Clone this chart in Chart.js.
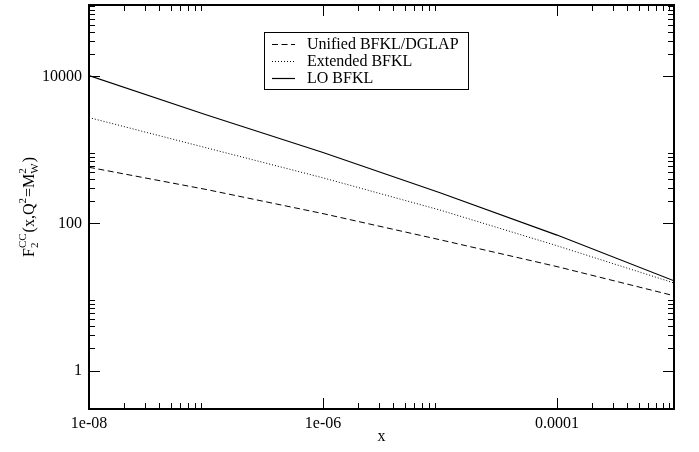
<!DOCTYPE html>
<html>
<head>
<meta charset="utf-8">
<title>F2 CC</title>
<script src="https://cdn.jsdelivr.net/npm/chart.js@4/dist/chart.umd.min.js"></script>
<style>
  html, body { margin: 0; padding: 0; background: #fff; }
</style>
</head>
<body>
<canvas id="f2Chart" width="699" height="452"></canvas>
<script>
// values, one point per decade of x
const X_VALUES = [1e-8, 1e-7, 1e-6, 1e-5, 1e-4, 1e-3];
const UNIFIED = [580, 290, 136, 60, 25.9, 10.4];
const EXTENDED = [2750, 1070, 417, 152, 49.7, 15.5];
const LO_BFKL = [10230, 3000, 920, 261, 69.5, 16.6];

const SERIES_LABELS = ['Unified BFKL/DGLAP', 'Extended BFKL', 'LO BFKL'];

const X_TICKS = [1e-8, 1e-6, 1e-4];
const X_TICK_LABELS = ['1e-08', '1e-06', '0.0001'];
const Y_TICKS = [1, 100, 10000];
const Y_TICK_LABELS = ['1', '100', '10000'];
const X_MIN = 1e-8, X_MAX = 1e-3;
const Y_MIN = 0.3162, Y_MAX = 93300;

const FONT = '"Liberation Serif", "Times New Roman", serif';

Chart.defaults.font.family = FONT;
Chart.defaults.font.size = 16;
Chart.defaults.color = '#000';

let toPoints = (ys) => {
  return ys.map((y, i) => ({x: X_VALUES[i], y: y}));
}

let lineConfig = (label, data, dash, width) => {
  return {
    label: label,
    data: toPoints(data),
    borderColor: '#000',
    backgroundColor: '#000',
    borderWidth: width,
    borderDash: dash,
    pointRadius: 0,
    fill: false,
    tension: 0
  }
}

// frame + inward ticks on all four sides, like the original
const framePlugin = {
  id: 'frame',
  afterDraw(chart) {
    const {ctx, chartArea: a} = chart;
    const xs = chart.scales.x, ys = chart.scales.y;
    const MAJOR = 11, MINOR = 6;
    ctx.save();
    ctx.strokeStyle = '#000';
    ctx.lineWidth = 1;

    let tick = (px, py, dx, dy) => {
      ctx.beginPath();
      ctx.moveTo(px, py);
      ctx.lineTo(px + dx, py + dy);
      ctx.stroke();
    };

    X_TICKS.forEach((m) => {
      for (let k = 1; k <= 9; k ++) {
        let v = m * k;
        if (v < X_MIN || v > X_MAX) continue;
        let len = k === 1 ? MAJOR : MINOR;
        let px = Math.round(xs.getPixelForValue(v)) + 0.5;
        tick(px, a.bottom, 0, -len);
        tick(px, a.top, 0, len);
      }
    });
    Y_TICKS.forEach((m) => {
      for (let k = 1; k <= 9; k ++) {
        let v = m * k;
        if (v < Y_MIN || v > Y_MAX) continue;
        let len = k === 1 ? MAJOR : MINOR;
        let py = Math.round(ys.getPixelForValue(v)) + 0.5;
        tick(a.left, py, len, 0);
        tick(a.right, py, -len, 0);
      }
    });

    ctx.lineWidth = 2;
    ctx.strokeRect(a.left, a.top, a.right - a.left, a.bottom - a.top);
    ctx.restore();
  }
};

// boxed legend inside the plot area
const boxLegend = {
  id: 'boxLegend',
  afterDraw(chart) {
    const {ctx, chartArea: a} = chart;
    const left = a.left + 175, top = a.top + 27, w = 204, h = 57;
    ctx.save();
    ctx.fillStyle = '#fff';
    ctx.fillRect(left, top, w, h);
    ctx.strokeStyle = '#000';
    ctx.lineWidth = 1;
    ctx.strokeRect(left + 0.5, top + 0.5, w, h);
    ctx.font = '16px ' + FONT;
    ctx.textBaseline = 'middle';
    ctx.fillStyle = '#000';
    chart.data.datasets.forEach((ds, i) => {
      let cy = top + 12 + i * 17;
      ctx.beginPath();
      ctx.setLineDash(ds.borderDash);
      ctx.lineWidth = ds.borderWidth;
      ctx.moveTo(left + 8, Math.round(cy) + 0.5);
      ctx.lineTo(left + 31, Math.round(cy) + 0.5);
      ctx.stroke();
      ctx.setLineDash([]);
      ctx.fillText(ds.label, left + 43, cy + 1);
    });
    ctx.restore();
  }
};

// y title with stacked sub/superscripts: F_2^CC(x,Q^2=M_W^2)
const yTitlePlugin = {
  id: 'yTitle',
  afterDraw(chart) {
    const {ctx, chartArea: a} = chart;
    const big = '16px ' + FONT, small = '11px ' + FONT;
    const parts = [
      {t: 'F'}, {sub: '2', sup: 'CC'}, {t: '(x,Q'}, {sup: '2'},
      {t: '=M'}, {sub: 'W', sup: '2'}, {t: ')'}
    ];
    let widths = parts.map((p) => {
      if (p.t) { ctx.font = big; return ctx.measureText(p.t).width; }
      ctx.font = small;
      return Math.max(p.sub ? ctx.measureText(p.sub).width : 0, p.sup ? ctx.measureText(p.sup).width : 0) + 1;
    });
    let total = widths.reduce((s, w) => s + w, 0);
    ctx.save();
    ctx.translate(34, (a.top + a.bottom) / 2);
    ctx.rotate(-Math.PI / 2);
    ctx.fillStyle = '#000';
    ctx.textBaseline = 'alphabetic';
    let x = -total / 2;
    parts.forEach((p, i) => {
      if (p.t) {
        ctx.font = big;
        ctx.fillText(p.t, x, 0);
      } else {
        ctx.font = small;
        if (p.sub) ctx.fillText(p.sub, x, 4);
        if (p.sup) ctx.fillText(p.sup, x, -8);
      }
      x += widths[i];
    });
    ctx.restore();
  }
};

new Chart(document.getElementById('f2Chart'), {
  type: 'line',
  data: {
    datasets: [
      lineConfig(SERIES_LABELS[0], UNIFIED, [6, 3.5], 1),
      lineConfig(SERIES_LABELS[1], EXTENDED, [1, 2], 1),
      lineConfig(SERIES_LABELS[2], LO_BFKL, [], 1.2)
    ]
  },
  options: {
    responsive: false,
    animation: false,
    devicePixelRatio: 1,
    layout: {padding: {left: 0, right: 25, top: 5, bottom: 0}},
    plugins: {
      legend: {display: false},
      tooltip: {enabled: false}
    },
    scales: {
      x: {
        type: 'logarithmic',
        min: X_MIN,
        max: X_MAX,
        afterBuildTicks: (s) => { s.ticks = X_TICKS.map((v) => ({value: v})); },
        afterFit: (s) => { s.height = 43; s.paddingLeft = 0; s.paddingRight = 0; },
        grid: {display: false, drawTicks: false},
        border: {display: false},
        ticks: {
          autoSkip: false,
          maxRotation: 0,
          padding: 5,
          callback: (v, i) => X_TICK_LABELS[i]
        },
        title: {display: true, text: 'x', padding: {top: 0, bottom: 6}}
      },
      y: {
        type: 'logarithmic',
        min: Y_MIN,
        max: Y_MAX,
        afterBuildTicks: (s) => { s.ticks = Y_TICKS.map((v) => ({value: v})); },
        afterFit: (s) => { s.width = 89; s.paddingTop = 0; s.paddingBottom = 0; },
        grid: {display: false, drawTicks: false},
        border: {display: false},
        ticks: {
          autoSkip: false,
          padding: 7,
          callback: (v, i) => Y_TICK_LABELS[i]
        }
      }
    }
  },
  plugins: [framePlugin, boxLegend, yTitlePlugin]
});
</script>
</body>
</html>
